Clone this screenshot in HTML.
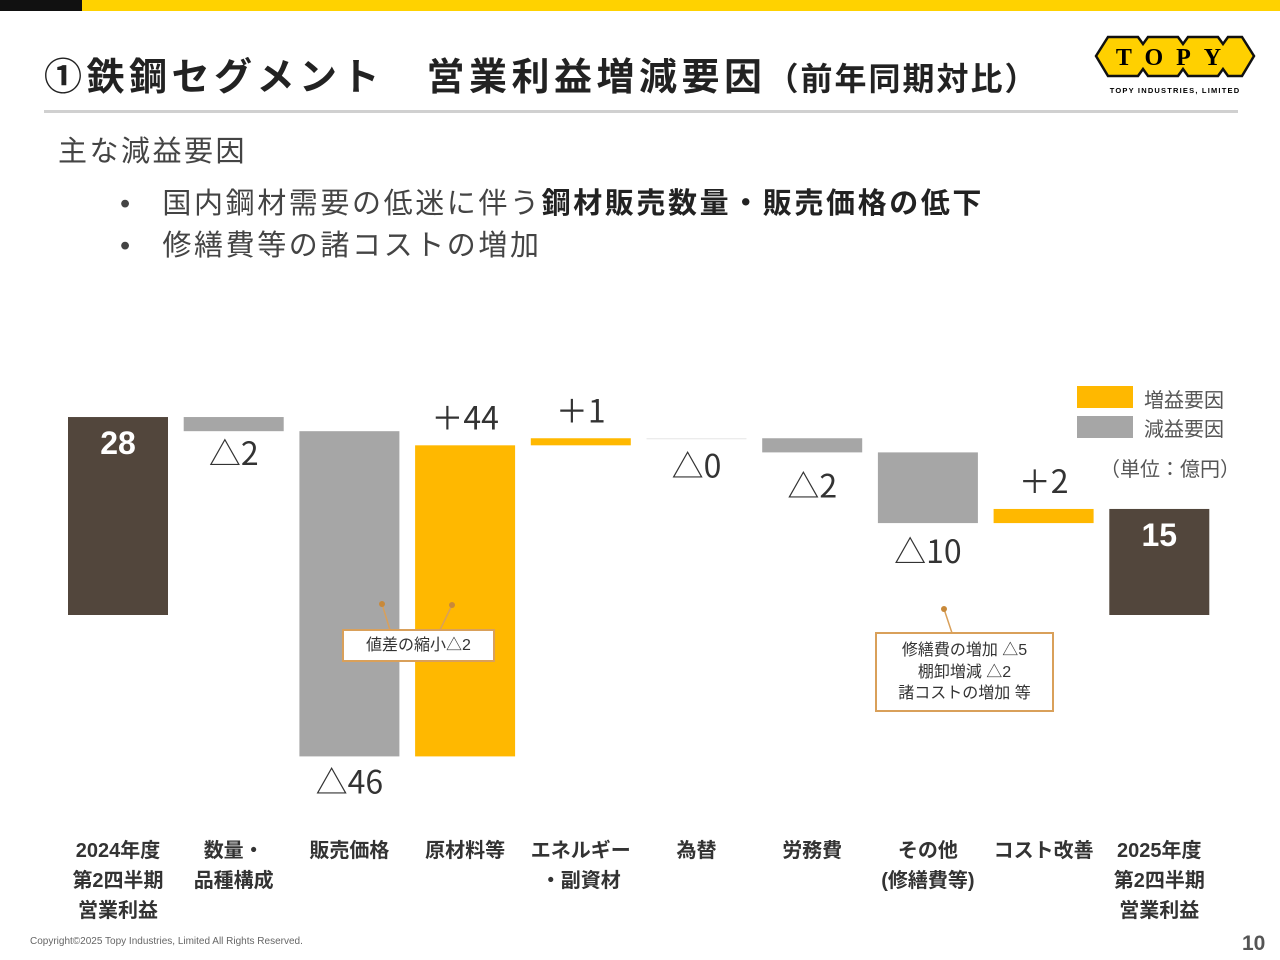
<!DOCTYPE html>
<html><head><meta charset="utf-8"><style>
body{margin:0;width:1280px;height:960px;overflow:hidden;background:#fff;font-family:"Liberation Sans","Noto Sans CJK JP",sans-serif;position:relative}
.abs{position:absolute}
</style></head><body>
<div class="abs" style="left:0;top:0;width:82px;height:11px;background:#111"></div>
<div class="abs" style="left:82px;top:0;width:1198px;height:11px;background:#FFD200"></div>
<div class="abs" style="left:44px;top:46px;font-size:38px;font-weight:bold;color:#222;white-space:nowrap;letter-spacing:4.5px">①鉄鋼セグメント　営業利益増減要因<span style="font-size:32px;letter-spacing:2px">（前年同期対比）</span></div>
<div class="abs" style="left:44px;top:110px;width:1194px;height:3px;background:#d0d0d0"></div>
<svg class="abs" style="left:1094px;top:34px" width="162" height="62" viewBox="0 0 162 62">
<g fill="#FFD000" stroke="#111" stroke-width="2.5">
<polygon points="2,22 14,3 44,3 49,10 54,3 84,3 89,10 94,3 124,3 129,10 134,3 148,3 160,22 148,42 134,42 129,35 124,42 94,42 89,35 84,42 54,42 49,35 44,42 14,42"/></g>
<text x="81" y="31" text-anchor="middle" font-family="Liberation Serif" font-weight="bold" font-size="24" letter-spacing="13">TOPY</text>
<text x="81" y="59" text-anchor="middle" font-size="7.5" font-weight="bold" letter-spacing="1.2">TOPY INDUSTRIES, LIMITED</text>
</svg>
<div class="abs" style="left:58px;top:128px;font-size:29px;color:#444;letter-spacing:2.5px">主な減益要因</div>
<div class="abs" style="left:120px;top:180px;font-size:29px;color:#444;white-space:nowrap;letter-spacing:2.6px"><span style="letter-spacing:0">•&nbsp;&nbsp;&nbsp;&nbsp;</span>国内鋼材需要の低迷に伴う<b style="color:#222">鋼材販売数量・販売価格の低下</b></div>
<div class="abs" style="left:120px;top:222px;font-size:29px;color:#444;white-space:nowrap;letter-spacing:2.6px"><span style="letter-spacing:0">•&nbsp;&nbsp;&nbsp;&nbsp;</span>修繕費等の諸コストの増加</div>

<svg id="chart" class="abs" style="left:0;top:0" width="1280" height="960"></svg>

<div class="abs" style="left:1077px;top:386px;width:56px;height:22px;background:#FFB800"></div>
<div class="abs" style="left:1144px;top:384px;font-size:20px;color:#555">増益要因</div>
<div class="abs" style="left:1077px;top:416px;width:56px;height:22px;background:#A6A6A6"></div>
<div class="abs" style="left:1144px;top:413px;font-size:20px;color:#555">減益要因</div>
<div class="abs" style="left:1100px;top:453px;font-size:20px;color:#555">（単位：億円）</div>

<div class="abs" style="left:342px;top:629px;width:153px;height:33px;border:2px solid #D9A05A;box-sizing:border-box;font-size:16px;color:#333;text-align:center;line-height:29px;background:#fff">値差の縮小△2</div>
<div class="abs" style="left:875px;top:632px;width:179px;height:80px;border:2px solid #D9A05A;box-sizing:border-box;font-size:16px;color:#333;text-align:center;line-height:21.5px;padding-top:6px;background:#fff">修繕費の増加 △5<br>棚卸増減 △2<br>諸コストの増加 等</div>

<div class="abs" style="left:30px;top:936px;font-size:10px;color:#666">Copyright©2025 Topy Industries, Limited All Rights Reserved.</div>
<div class="abs" style="left:1242px;top:932px;font-size:21px;font-weight:bold;color:#555">10</div>

<script>
const categories=[["2024年度","第2四半期","営業利益"],["数量・","品種構成"],["販売価格"],["原材料等"],["エネルギー","・副資材"],["為替"],["労務費"],["その他","(修繕費等)"],["コスト改善"],["2025年度","第2四半期","営業利益"]];
const deltas=[28,-2,-46,44,1,0,-2,-10,2,15];
const kinds=["total","step","step","step","step","step","step","step","step","total"];
const valueLabels=["28","△2","△46","＋44","＋1","△0","△2","△10","＋2","15"];

const svg=document.getElementById('chart');
const NS='http://www.w3.org/2000/svg';
const y0=615, unit=7.07;
const yS=v=>y0-v*unit;
const xS=i=>68+i*115.7;
const bw=100;
function mk(tag,attrs){const e=document.createElementNS(NS,tag);for(const k in attrs)e.setAttribute(k,attrs[k]);svg.appendChild(e);return e;}
let run=0;
deltas.forEach((d,i)=>{
  let a,b,col;
  if(kinds[i]==="total"){a=0;b=d;run=d;col="#52463C";}
  else{a=run;b=run+d;run=b;col=d>0?"#FFB800":"#A6A6A6";}
  const top=Math.min(yS(a),yS(b)),bot=Math.max(yS(a),yS(b));
  const h=Math.max(bot-top,1);
  const r=mk('rect',{x:xS(i),y:top,width:bw,height:h,fill:d===0?"#e6e6e6":col});
  
  
  let ty,fill="#333";
  if(kinds[i]==="total"){ty=top+37;fill="#fff";}
  else if(d>0){ty=top-16;}
  else{ty=bot+(i===6?45:i===2?37:i===5?39:i===1?34:40);}
  const t=mk('text',{x:xS(i)+bw/2,y:ty,'text-anchor':'middle','font-size':32,'font-weight':(kinds[i]==="total"?'bold':'normal'),fill:fill});
  if(kinds[i]!=="total")t.setAttribute('font-family','"Noto Sans CJK JP",sans-serif');
  t.textContent=valueLabels[i];
  
  
  categories[i].forEach((ln,j)=>{
    const c=mk('text',{x:xS(i)+bw/2,y:857+j*30,'text-anchor':'middle','font-size':20,'font-weight':'bold',fill:'#333'});
    c.textContent=ln;
    
    
  });
});
// callout leaders
[[382,604,390,630],[452,605,440,630],[944,609,952,633]].forEach((p,k)=>{
  const l=mk('line',{x1:p[0],y1:p[1],x2:p[2],y2:p[3],stroke:'#D9A05A','stroke-width':1.5});
  
  
  const c=mk('circle',{cx:p[0],cy:p[1],r:3,fill:'#C8893A'});
  
  
});
</script>
</body></html>
